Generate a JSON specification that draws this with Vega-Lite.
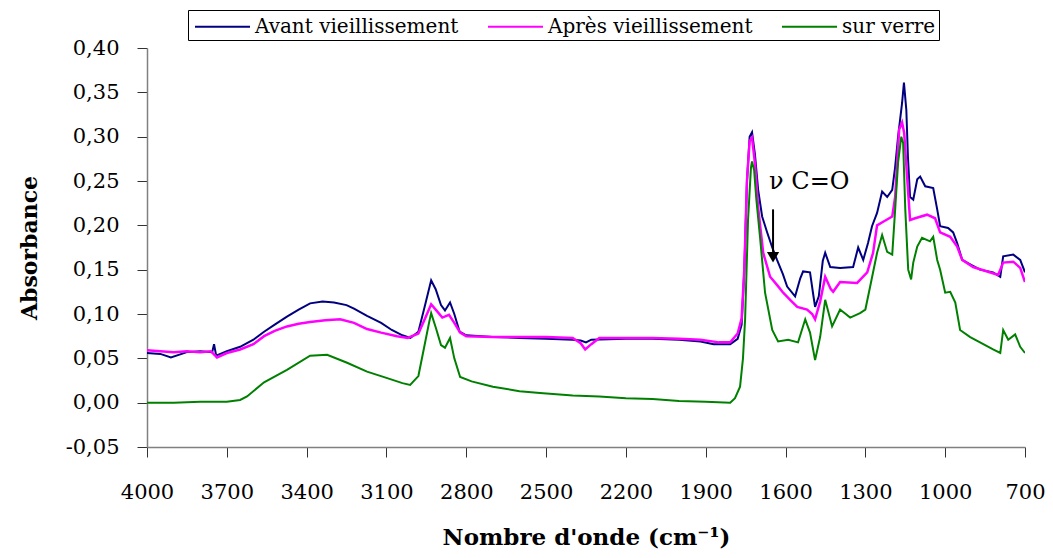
{
  "$schema": "https://vega.github.io/schema/vega-lite/v6.json",
  "width": 878,
  "height": 399,
  "autosize": "none",
  "padding": {"left": 147, "top": 48, "right": 28, "bottom": 111},
  "background": "white",
  "config": {
    "view": {"stroke": null},
    "font": "DejaVu Serif"
  },
  "datasets": {
    "avant": [
      {"wn": 4000, "abs": 0.056}, {"wn": 3950, "abs": 0.055}, {"wn": 3910, "abs": 0.051}, {"wn": 3850, "abs": 0.057},
      {"wn": 3800, "abs": 0.058}, {"wn": 3755, "abs": 0.057}, {"wn": 3748, "abs": 0.066}, {"wn": 3740, "abs": 0.053},
      {"wn": 3700, "abs": 0.058}, {"wn": 3650, "abs": 0.063}, {"wn": 3600, "abs": 0.071}, {"wn": 3560, "abs": 0.080},
      {"wn": 3520, "abs": 0.088}, {"wn": 3474, "abs": 0.097}, {"wn": 3430, "abs": 0.105}, {"wn": 3387, "abs": 0.112},
      {"wn": 3340, "abs": 0.114}, {"wn": 3297, "abs": 0.113}, {"wn": 3250, "abs": 0.110}, {"wn": 3222, "abs": 0.106},
      {"wn": 3173, "abs": 0.098}, {"wn": 3120, "abs": 0.090}, {"wn": 3080, "abs": 0.082}, {"wn": 3040, "abs": 0.076},
      {"wn": 3010, "abs": 0.073}, {"wn": 2980, "abs": 0.080}, {"wn": 2955, "abs": 0.110}, {"wn": 2932, "abs": 0.138},
      {"wn": 2915, "abs": 0.128}, {"wn": 2895, "abs": 0.110}, {"wn": 2880, "abs": 0.104}, {"wn": 2861, "abs": 0.113},
      {"wn": 2845, "abs": 0.100}, {"wn": 2825, "abs": 0.080}, {"wn": 2800, "abs": 0.076}, {"wn": 2700, "abs": 0.074},
      {"wn": 2600, "abs": 0.073}, {"wn": 2500, "abs": 0.072}, {"wn": 2400, "abs": 0.071}, {"wn": 2370, "abs": 0.070},
      {"wn": 2350, "abs": 0.068}, {"wn": 2330, "abs": 0.071}, {"wn": 2200, "abs": 0.072}, {"wn": 2100, "abs": 0.072},
      {"wn": 2000, "abs": 0.071}, {"wn": 1920, "abs": 0.069}, {"wn": 1870, "abs": 0.066}, {"wn": 1808, "abs": 0.066},
      {"wn": 1780, "abs": 0.072}, {"wn": 1765, "abs": 0.088}, {"wn": 1755, "abs": 0.150}, {"wn": 1745, "abs": 0.250},
      {"wn": 1735, "abs": 0.300}, {"wn": 1726, "abs": 0.305}, {"wn": 1715, "abs": 0.280}, {"wn": 1703, "abs": 0.240},
      {"wn": 1688, "abs": 0.210}, {"wn": 1669, "abs": 0.192}, {"wn": 1650, "abs": 0.175}, {"wn": 1632, "abs": 0.161},
      {"wn": 1610, "abs": 0.145}, {"wn": 1594, "abs": 0.131}, {"wn": 1564, "abs": 0.120}, {"wn": 1545, "abs": 0.140},
      {"wn": 1534, "abs": 0.148}, {"wn": 1508, "abs": 0.147}, {"wn": 1495, "abs": 0.120}, {"wn": 1489, "abs": 0.108},
      {"wn": 1475, "abs": 0.120}, {"wn": 1460, "abs": 0.160}, {"wn": 1451, "abs": 0.169}, {"wn": 1432, "abs": 0.153},
      {"wn": 1395, "abs": 0.152}, {"wn": 1346, "abs": 0.153}, {"wn": 1327, "abs": 0.175}, {"wn": 1308, "abs": 0.161},
      {"wn": 1290, "abs": 0.180}, {"wn": 1275, "abs": 0.199}, {"wn": 1256, "abs": 0.214}, {"wn": 1237, "abs": 0.238},
      {"wn": 1218, "abs": 0.232}, {"wn": 1199, "abs": 0.240}, {"wn": 1188, "abs": 0.266}, {"wn": 1177, "abs": 0.300},
      {"wn": 1162, "abs": 0.338}, {"wn": 1155, "abs": 0.361}, {"wn": 1146, "abs": 0.330}, {"wn": 1140, "abs": 0.277},
      {"wn": 1132, "abs": 0.232}, {"wn": 1120, "abs": 0.229}, {"wn": 1105, "abs": 0.252}, {"wn": 1094, "abs": 0.255},
      {"wn": 1075, "abs": 0.244}, {"wn": 1045, "abs": 0.242}, {"wn": 1030, "abs": 0.218}, {"wn": 1019, "abs": 0.199},
      {"wn": 989, "abs": 0.197}, {"wn": 970, "abs": 0.192}, {"wn": 955, "abs": 0.180}, {"wn": 936, "abs": 0.161},
      {"wn": 906, "abs": 0.156}, {"wn": 869, "abs": 0.150}, {"wn": 820, "abs": 0.147}, {"wn": 793, "abs": 0.142},
      {"wn": 782, "abs": 0.165}, {"wn": 744, "abs": 0.167}, {"wn": 718, "abs": 0.161}, {"wn": 700, "abs": 0.147}
    ],
    "apres": [
      {"wn": 4000, "abs": 0.059}, {"wn": 3950, "abs": 0.058}, {"wn": 3900, "abs": 0.057}, {"wn": 3850, "abs": 0.058},
      {"wn": 3800, "abs": 0.057}, {"wn": 3760, "abs": 0.058}, {"wn": 3737, "abs": 0.051}, {"wn": 3700, "abs": 0.056},
      {"wn": 3650, "abs": 0.060}, {"wn": 3600, "abs": 0.066}, {"wn": 3560, "abs": 0.075}, {"wn": 3520, "abs": 0.081},
      {"wn": 3474, "abs": 0.086}, {"wn": 3430, "abs": 0.089}, {"wn": 3387, "abs": 0.091}, {"wn": 3330, "abs": 0.093},
      {"wn": 3274, "abs": 0.094}, {"wn": 3222, "abs": 0.090}, {"wn": 3173, "abs": 0.083}, {"wn": 3120, "abs": 0.079},
      {"wn": 3060, "abs": 0.075}, {"wn": 3020, "abs": 0.073}, {"wn": 2980, "abs": 0.078}, {"wn": 2955, "abs": 0.095},
      {"wn": 2932, "abs": 0.111}, {"wn": 2915, "abs": 0.105}, {"wn": 2890, "abs": 0.096}, {"wn": 2865, "abs": 0.099},
      {"wn": 2845, "abs": 0.090}, {"wn": 2823, "abs": 0.079}, {"wn": 2800, "abs": 0.075}, {"wn": 2700, "abs": 0.074},
      {"wn": 2600, "abs": 0.074}, {"wn": 2500, "abs": 0.074}, {"wn": 2400, "abs": 0.073}, {"wn": 2370, "abs": 0.067},
      {"wn": 2353, "abs": 0.060}, {"wn": 2330, "abs": 0.066}, {"wn": 2300, "abs": 0.073}, {"wn": 2200, "abs": 0.073},
      {"wn": 2100, "abs": 0.073}, {"wn": 2000, "abs": 0.072}, {"wn": 1920, "abs": 0.071}, {"wn": 1850, "abs": 0.068},
      {"wn": 1808, "abs": 0.068}, {"wn": 1780, "abs": 0.078}, {"wn": 1765, "abs": 0.095}, {"wn": 1755, "abs": 0.150},
      {"wn": 1745, "abs": 0.250}, {"wn": 1735, "abs": 0.295}, {"wn": 1726, "abs": 0.299}, {"wn": 1715, "abs": 0.270},
      {"wn": 1703, "abs": 0.220}, {"wn": 1684, "abs": 0.169}, {"wn": 1658, "abs": 0.142}, {"wn": 1630, "abs": 0.132},
      {"wn": 1609, "abs": 0.124}, {"wn": 1580, "abs": 0.115}, {"wn": 1556, "abs": 0.108}, {"wn": 1519, "abs": 0.105},
      {"wn": 1500, "abs": 0.100}, {"wn": 1489, "abs": 0.094}, {"wn": 1470, "abs": 0.114}, {"wn": 1451, "abs": 0.142},
      {"wn": 1430, "abs": 0.128}, {"wn": 1421, "abs": 0.125}, {"wn": 1395, "abs": 0.136}, {"wn": 1331, "abs": 0.135},
      {"wn": 1293, "abs": 0.147}, {"wn": 1271, "abs": 0.169}, {"wn": 1256, "abs": 0.200}, {"wn": 1233, "abs": 0.204},
      {"wn": 1199, "abs": 0.210}, {"wn": 1188, "abs": 0.232}, {"wn": 1173, "abs": 0.308}, {"wn": 1162, "abs": 0.316},
      {"wn": 1154, "abs": 0.304}, {"wn": 1145, "abs": 0.263}, {"wn": 1132, "abs": 0.206}, {"wn": 1113, "abs": 0.208},
      {"wn": 1068, "abs": 0.212}, {"wn": 1038, "abs": 0.208}, {"wn": 1019, "abs": 0.192}, {"wn": 981, "abs": 0.187},
      {"wn": 955, "abs": 0.176}, {"wn": 936, "abs": 0.161}, {"wn": 895, "abs": 0.153}, {"wn": 842, "abs": 0.148},
      {"wn": 801, "abs": 0.144}, {"wn": 782, "abs": 0.158}, {"wn": 744, "abs": 0.159}, {"wn": 718, "abs": 0.152},
      {"wn": 700, "abs": 0.136}
    ],
    "verre": [
      {"wn": 4000, "abs": 0.000}, {"wn": 3900, "abs": 0.000}, {"wn": 3800, "abs": 0.001}, {"wn": 3700, "abs": 0.001},
      {"wn": 3650, "abs": 0.003}, {"wn": 3624, "abs": 0.007}, {"wn": 3560, "abs": 0.023}, {"wn": 3474, "abs": 0.037},
      {"wn": 3387, "abs": 0.053}, {"wn": 3323, "abs": 0.054}, {"wn": 3248, "abs": 0.045}, {"wn": 3173, "abs": 0.035},
      {"wn": 3100, "abs": 0.028}, {"wn": 3040, "abs": 0.022}, {"wn": 3011, "abs": 0.020}, {"wn": 2980, "abs": 0.030},
      {"wn": 2960, "abs": 0.060}, {"wn": 2940, "abs": 0.090}, {"wn": 2932, "abs": 0.101}, {"wn": 2915, "abs": 0.085},
      {"wn": 2895, "abs": 0.065}, {"wn": 2880, "abs": 0.062}, {"wn": 2861, "abs": 0.073}, {"wn": 2845, "abs": 0.050},
      {"wn": 2823, "abs": 0.029}, {"wn": 2780, "abs": 0.024}, {"wn": 2700, "abs": 0.018}, {"wn": 2600, "abs": 0.013},
      {"wn": 2523, "abs": 0.011}, {"wn": 2400, "abs": 0.008}, {"wn": 2300, "abs": 0.007}, {"wn": 2200, "abs": 0.005},
      {"wn": 2100, "abs": 0.004}, {"wn": 2000, "abs": 0.002}, {"wn": 1900, "abs": 0.001}, {"wn": 1808, "abs": 0.000},
      {"wn": 1790, "abs": 0.005}, {"wn": 1771, "abs": 0.018}, {"wn": 1760, "abs": 0.050}, {"wn": 1752, "abs": 0.094},
      {"wn": 1741, "abs": 0.206}, {"wn": 1730, "abs": 0.265}, {"wn": 1726, "abs": 0.272}, {"wn": 1718, "abs": 0.262},
      {"wn": 1710, "abs": 0.230}, {"wn": 1696, "abs": 0.187}, {"wn": 1677, "abs": 0.124}, {"wn": 1650, "abs": 0.082},
      {"wn": 1628, "abs": 0.069}, {"wn": 1590, "abs": 0.071}, {"wn": 1553, "abs": 0.068}, {"wn": 1526, "abs": 0.094},
      {"wn": 1508, "abs": 0.079}, {"wn": 1489, "abs": 0.048}, {"wn": 1470, "abs": 0.074}, {"wn": 1451, "abs": 0.116},
      {"wn": 1425, "abs": 0.086}, {"wn": 1395, "abs": 0.105}, {"wn": 1357, "abs": 0.096}, {"wn": 1320, "abs": 0.101},
      {"wn": 1300, "abs": 0.105}, {"wn": 1282, "abs": 0.131}, {"wn": 1256, "abs": 0.169}, {"wn": 1237, "abs": 0.189},
      {"wn": 1218, "abs": 0.170}, {"wn": 1199, "abs": 0.167}, {"wn": 1188, "abs": 0.218}, {"wn": 1177, "abs": 0.271},
      {"wn": 1165, "abs": 0.300}, {"wn": 1158, "abs": 0.293}, {"wn": 1150, "abs": 0.218}, {"wn": 1139, "abs": 0.150},
      {"wn": 1128, "abs": 0.139}, {"wn": 1120, "abs": 0.158}, {"wn": 1105, "abs": 0.176}, {"wn": 1087, "abs": 0.186},
      {"wn": 1057, "abs": 0.182}, {"wn": 1045, "abs": 0.187}, {"wn": 1030, "abs": 0.161}, {"wn": 1019, "abs": 0.150},
      {"wn": 1000, "abs": 0.124}, {"wn": 981, "abs": 0.125}, {"wn": 962, "abs": 0.113}, {"wn": 944, "abs": 0.082},
      {"wn": 906, "abs": 0.074}, {"wn": 869, "abs": 0.068}, {"wn": 820, "abs": 0.060}, {"wn": 793, "abs": 0.056},
      {"wn": 782, "abs": 0.082}, {"wn": 763, "abs": 0.071}, {"wn": 737, "abs": 0.077}, {"wn": 718, "abs": 0.063},
      {"wn": 700, "abs": 0.056}
    ]
  },
  "encoding": {
    "x": {
      "field": "wn", "type": "quantitative",
      "scale": {"domain": [700, 4000], "reverse": true, "nice": false, "zero": false},
      "axis": {
        "title": "Nombre d'onde (cm⁻¹)",
        "values": [4000, 3700, 3400, 3100, 2800, 2500, 2200, 1900, 1600, 1300, 1000, 700],
        "format": "d",
        "grid": false,
        "domainColor": "#808080", "domainWidth": 1.5,
        "tickColor": "#333333", "tickSize": 10, "tickWidth": 1,
        "labelFont": "DejaVu Serif", "labelFontSize": 21, "labelColor": "black",
        "labelPadding": 24, "labelFlush": false, "labelOverlap": false,
        "titleFont": "DejaVu Serif", "titleFontSize": 23, "titleFontWeight": "bold", "titleColor": "black",
        "titlePadding": 24
      }
    },
    "y": {
      "field": "abs", "type": "quantitative",
      "scale": {"domain": [-0.05, 0.4], "nice": false, "zero": false},
      "axis": {
        "title": "Absorbance",
        "values": [-0.05, 0, 0.05, 0.1, 0.15, 0.2, 0.25, 0.3, 0.35, 0.4],
        "labelExpr": "replace(replace(format(datum.value, '.2f'), '.', ','), '−', '-')",
        "grid": false,
        "domainColor": "#808080", "domainWidth": 1.5,
        "tickColor": "#333333", "tickSize": 10, "tickWidth": 1,
        "labelFont": "DejaVu Serif", "labelFontSize": 21, "labelColor": "black",
        "labelPadding": 18, "labelOverlap": false,
        "titleFont": "DejaVu Serif", "titleFontSize": 22, "titleFontWeight": "bold", "titleColor": "black",
        "titlePadding": 24
      }
    }
  },
  "layer": [
    {
      "data": {"name": "avant"},
      "transform": [{"calculate": "'Avant vieillissement'", "as": "series"}],
      "mark": {"type": "line", "strokeWidth": 2, "clip": true},
      "encoding": {
        "color": {
          "field": "series", "type": "nominal",
          "scale": {"domain": ["Avant vieillissement", "Après vieillissement", "sur verre"], "range": ["#000080", "#FF00FF", "#008000"]},
          "legend": {
            "title": null, "orient": "none", "direction": "horizontal",
            "legendX": 41, "legendY": -38,
            "symbolType": "M-2.2,0H2.2", "symbolSize": 625, "symbolStrokeWidth": 2, "symbolOffset": 18,
            "labelFont": "DejaVu Serif", "labelFontSize": 20, "labelColor": "black",
            "labelLimit": 0, "labelOffset": 19, "columnPadding": 24,
            "strokeColor": "black", "fillColor": "white", "padding": 3
          }
        }
      }
    },
    {
      "data": {"name": "apres"},
      "transform": [{"calculate": "'Après vieillissement'", "as": "series"}],
      "mark": {"type": "line", "strokeWidth": 2.5, "clip": true},
      "encoding": {"color": {"field": "series", "type": "nominal"}}
    },
    {
      "data": {"name": "verre"},
      "transform": [{"calculate": "'sur verre'", "as": "series"}],
      "mark": {"type": "line", "strokeWidth": 2, "clip": true},
      "encoding": {"color": {"field": "series", "type": "nominal"}}
    },
    {
      "data": {"values": [{"wn": 1647, "abs": 0.218, "abs2": 0.17}]},
      "mark": {"type": "rule", "color": "black", "strokeWidth": 2},
      "encoding": {"y2": {"field": "abs2"}}
    },
    {
      "data": {"values": [{"wn": 1647, "abs": 0.164}]},
      "mark": {"type": "point", "shape": "triangle-down", "filled": true, "color": "black", "size": 150, "opacity": 1}
    },
    {
      "data": {"values": [{"wn": 1662, "abs": 0.249, "label": "ν C=O"}]},
      "mark": {"type": "text", "align": "left", "baseline": "middle", "font": "DejaVu Serif", "fontSize": 24, "color": "black"},
      "encoding": {"text": {"field": "label"}}
    }
  ]
}
